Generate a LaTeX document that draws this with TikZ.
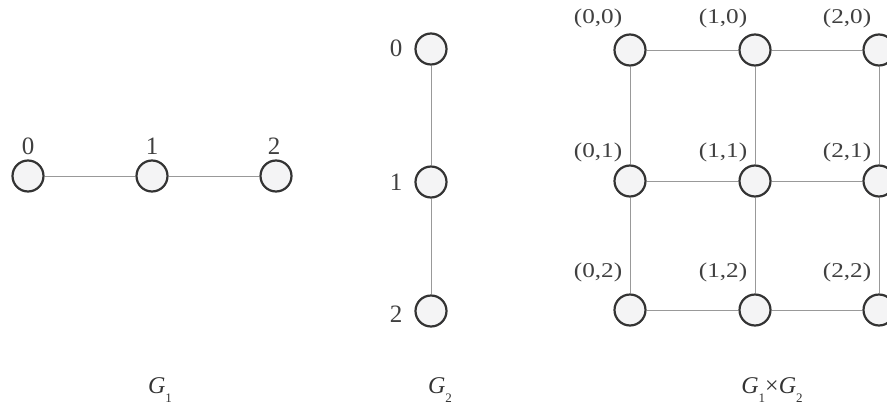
\documentclass[tikz,border=0pt]{standalone}
\usepackage{fontspec}
\setmainfont{Liberation Serif}
\newcommand{\wide}[1]{\scalebox{1.2}[1]{#1}}
\newcommand{\capsub}[1]{\raisebox{-9pt}{\fontsize{13}{13}\selectfont #1}}
\begin{document}
\begin{tikzpicture}[x=1pt,y=-1pt,
  vtx/.style={circle,draw=black!80,line width=2.2pt,fill=blue!4!gray!8,minimum size=31pt,inner sep=0pt},
  edge/.style={draw=black!40,line width=0.9pt},
  lab/.style={font=\fontsize{21}{21}\selectfont,text=black!75,inner sep=0pt},
  biglab/.style={font=\fontsize{25}{25}\selectfont,text=black!75,inner sep=0pt},
  captext/.style={font=\fontsize{24}{24}\selectfont,text=black!80,inner sep=0pt,anchor=base}]
\useasboundingbox (0,0) rectangle (887,410);
\clip (0,0) rectangle (887,410);
% G1
\node[vtx] (a0) at (28,176) {};
\node[vtx] (a1) at (152,176) {};
\node[vtx] (a2) at (276,176) {};
\draw[edge] (a0) -- (a1);
\draw[edge] (a1) -- (a2);
\node[biglab] (la0) at (28,146) {0};
\node[biglab] (la1) at (152,146) {1};
\node[biglab] (la2) at (274,146) {2};
% G2
\node[vtx] (b0) at (431,49) {};
\node[vtx] (b1) at (431,182) {};
\node[vtx] (b2) at (431,311) {};
\draw[edge] (b0) -- (b1);
\draw[edge] (b1) -- (b2);
\node[biglab] (lb0) at (396,48) {0};
\node[biglab] (lb1) at (396,182) {1};
\node[biglab] (lb2) at (396,314) {2};
% product
\foreach \i/\x in {0/630,1/755,2/879}{
  \foreach \j/\y/\ly in {0/50/18,1/181/152,2/310/272}{
    \node[vtx] (p\i\j) at (\x,\y) {};
    \node[lab] (lp\i\j) at (\x-32,\ly) {\wide{(\i,\j)}};
  }
}
\foreach \j in {0,1,2}{
  \draw[edge] (p0\j) -- (p1\j);
  \draw[edge] (p1\j) -- (p2\j);
}
\foreach \i in {0,1,2}{
  \draw[edge] (p\i0) -- (p\i1);
  \draw[edge] (p\i1) -- (p\i2);
}
% captions
\node[captext] (c1) at (160,393) {\textit{G}\capsub{1}};
\node[captext] (c2) at (440,393) {\textit{G}\capsub{2}};
\node[captext] (c3) at (772,393) {\textit{G}\capsub{1}×\textit{G}\capsub{2}};
\end{tikzpicture}
\end{document}
